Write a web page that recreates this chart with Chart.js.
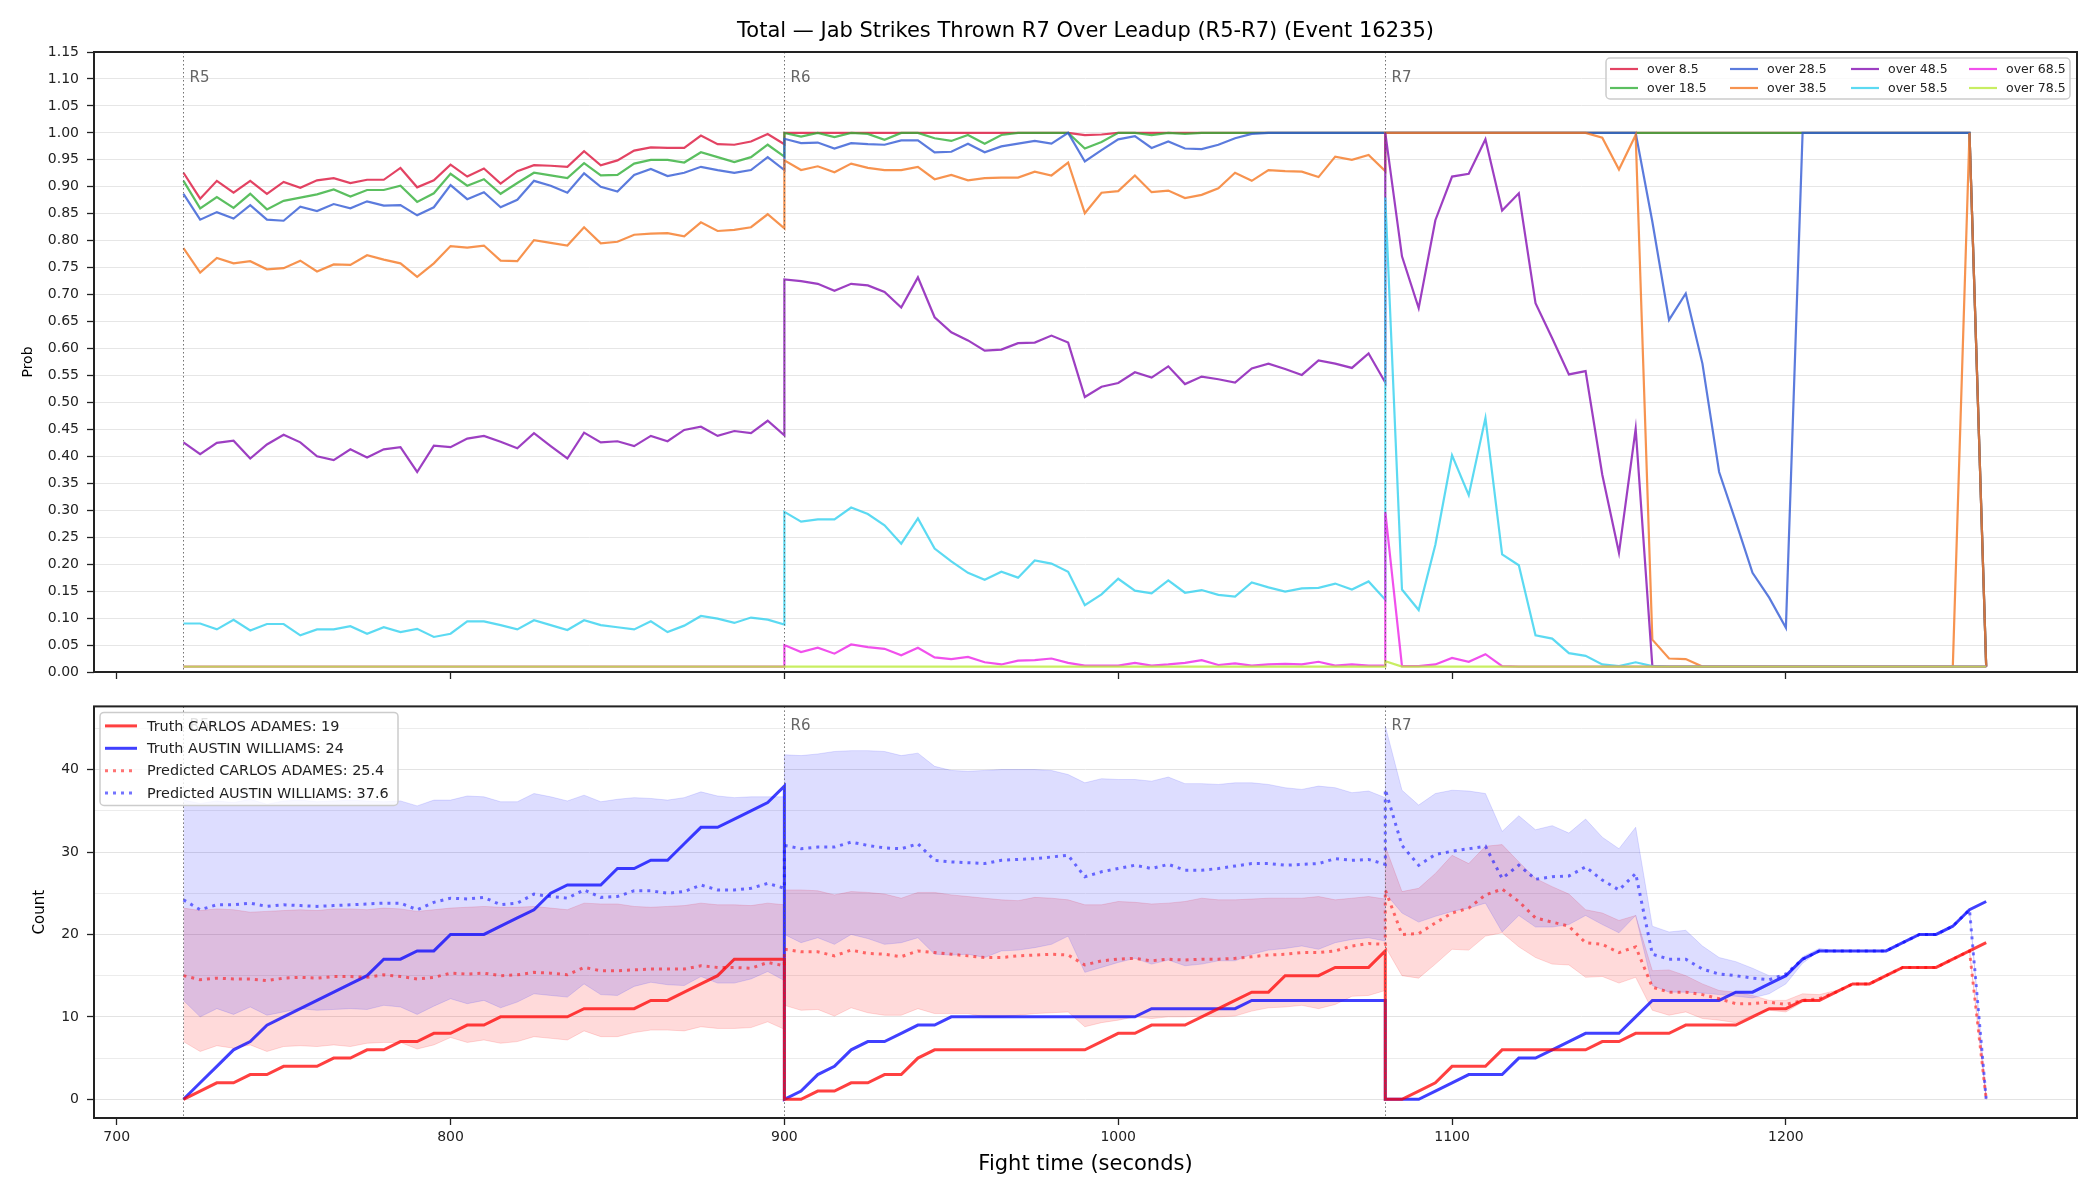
<!DOCTYPE html>
<html>
<head>
<meta charset="utf-8">
<title>Total — Jab Strikes Thrown R7 Over Leadup</title>
<script src="https://cdn.jsdelivr.net/npm/chart.js@4.4.1/dist/chart.umd.min.js"></script>
<style>
  html, body { margin: 0; padding: 0; background: #fff; }
  #wrap { position: relative; width: 2100px; height: 1200px; }
  canvas { position: absolute; left: 0; }
  #probChart { top: 0; }
  #countChart { top: 690px; }
</style>
</head>
<body>
<div id="wrap">
  <canvas id="probChart" width="2100" height="690"></canvas>
  <canvas id="countChart" width="2100" height="510"></canvas>
</div>
<script>
// sample times (s): R5, R6, R7 each sampled every 5 s, boundaries repeated
const times = [
  720,725,730,735,740,745,750,755,760,765,770,775,780,785,790,795,800,805,810,815,820,825,830,835,840,845,850,855,860,865,870,875,880,885,890,895,900,
  900,905,910,915,920,925,930,935,940,945,950,955,960,965,970,975,980,985,990,995,1000,1005,1010,1015,1020,1025,1030,1035,1040,1045,1050,1055,1060,1065,1070,1075,1080,
  1080,1085,1090,1095,1100,1105,1110,1115,1120,1125,1130,1135,1140,1145,1150,1155,1160,1165,1170,1175,1180,1185,1190,1195,1200,1205,1210,1215,1220,1225,1230,1235,1240,1245,1250,1255,1260
];

const roundStarts = [720, 900, 1080];
const roundLabels = ['R5', 'R6', 'R7'];
const xTicks = [700, 800, 900, 1000, 1100, 1200];
const probTicks = [0,0.05,0.1,0.15,0.2,0.25,0.3,0.35,0.4,0.45,0.5,0.55,0.6,0.65,0.7,0.75,0.8,0.85,0.9,0.95,1,1.05,1.1,1.15];
const countTicks = [0,5,10,15,20,25,30,35,40,45];

const probLabels = ['over 8.5','over 18.5','over 28.5','over 38.5','over 48.5','over 58.5','over 68.5','over 78.5'];
const probColors = [
  'rgba(220,20,60,0.8)', 'rgba(50,175,56,0.8)', 'rgba(50,90,212,0.8)', 'rgba(245,120,35,0.8)',
  'rgba(133,15,179,0.8)', 'rgba(51,209,239,0.8)', 'rgba(238,36,231,0.8)', 'rgba(186,234,59,0.8)'
];

const over8 = [
  0.926,0.878,0.911,0.889,0.911,0.887,0.909,0.898,0.912,0.916,0.907,0.913,0.913,0.935,0.899,0.912,0.941,0.919,0.934,0.906,0.929,0.940,0.939,0.937,0.966,0.940,0.949,0.967,0.973,0.972,0.972,0.995,0.979,0.978,0.984,0.998,0.979,
  1,1,1,1,1,1,1,1,1,1,1,1,1,1,1,1,1,1,0.996,0.997,1,1,1,1,1,1,1,1,1,1,1,1,1,1,1,1,1,
  1,1,1,1,1,1,1,1,1,1,1,1,1,1,1,1,1,1,1,1,1,1,1,1,1,1,1,1,1,1,1,1,1,1,1,1,0.01
];
const over18 = [
  0.911,0.860,0.881,0.861,0.887,0.858,0.874,0.880,0.886,0.895,0.882,0.894,0.894,0.902,0.872,0.888,0.924,0.902,0.914,0.887,0.907,0.926,0.921,0.916,0.944,0.921,0.922,0.943,0.950,0.950,0.945,0.964,0.955,0.946,0.955,0.978,0.956,
  1,0.993,1,0.992,1,0.998,0.987,1,1,0.990,0.985,0.996,0.980,0.996,1,1,1,1,0.971,0.983,1,1,0.996,1,0.998,1,1,1,1,1,1,1,1,1,1,1,1,
  1,1,1,1,1,1,1,1,1,1,1,1,1,1,1,1,1,1,1,1,1,1,1,1,1,1,1,1,1,1,1,1,1,1,1,1,0.01
];
const over28 = [
  0.887,0.839,0.853,0.841,0.866,0.839,0.837,0.863,0.855,0.868,0.860,0.873,0.865,0.866,0.847,0.862,0.903,0.877,0.890,0.862,0.876,0.911,0.902,0.889,0.925,0.900,0.891,0.922,0.933,0.920,0.926,0.937,0.931,0.926,0.931,0.955,0.931,
  0.989,0.981,0.982,0.971,0.981,0.979,0.978,0.986,0.986,0.964,0.965,0.980,0.964,0.975,0.980,0.985,0.980,1,0.947,0.968,0.988,0.994,0.972,0.984,0.971,0.970,0.978,0.990,0.998,1,1,1,1,1,1,1,1,
  1,1,1,1,1,1,1,1,1,1,1,1,1,1,1,1,0.835,0.653,0.702,0.572,0.371,0.279,0.184,0.138,0.082,1,1,1,1,1,1,1,1,1,1,1,0.01
];
const over38 = [
  0.786,0.741,0.768,0.758,0.762,0.747,0.749,0.763,0.743,0.756,0.755,0.773,0.765,0.758,0.733,0.758,0.790,0.787,0.791,0.763,0.762,0.801,0.796,0.791,0.825,0.795,0.798,0.811,0.813,0.814,0.808,0.834,0.818,0.820,0.825,0.849,0.823,
  0.949,0.931,0.938,0.927,0.943,0.935,0.931,0.931,0.937,0.914,0.922,0.912,0.916,0.917,0.917,0.928,0.921,0.945,0.851,0.889,0.892,0.921,0.890,0.893,0.879,0.885,0.897,0.926,0.911,0.931,0.929,0.928,0.918,0.956,0.950,0.959,0.929,
  1,1,1,1,1,1,1,1,1,1,1,1,1,0.991,0.932,0.996,0.060,0.025,0.024,0.01,0.01,0.01,0.01,0.01,0.01,0.01,0.01,0.01,0.01,0.01,0.01,0.01,0.01,0.01,0.01,1,0.01
];
const over48 = [
  0.426,0.404,0.425,0.429,0.396,0.422,0.440,0.426,0.400,0.393,0.413,0.398,0.413,0.417,0.371,0.420,0.417,0.433,0.438,0.427,0.415,0.443,0.419,0.396,0.444,0.426,0.428,0.419,0.438,0.428,0.449,0.455,0.438,0.447,0.443,0.466,0.439,
  0.728,0.725,0.720,0.707,0.720,0.717,0.705,0.676,0.732,0.658,0.630,0.615,0.596,0.598,0.610,0.611,0.624,0.611,0.510,0.529,0.536,0.556,0.546,0.567,0.534,0.548,0.543,0.537,0.563,0.572,0.562,0.551,0.578,0.572,0.564,0.591,0.537,
  1,0.771,0.675,0.838,0.919,0.924,0.988,0.856,0.888,0.684,0.619,0.552,0.558,0.366,0.221,0.451,0.011,0.01,0.01,0.01,0.01,0.01,0.01,0.01,0.01,0.01,0.01,0.01,0.01,0.01,0.01,0.01,0.01,0.01,0.01,0.01,0.01
];
const over58 = [
  0.090,0.090,0.079,0.097,0.077,0.089,0.089,0.068,0.079,0.079,0.085,0.071,0.083,0.074,0.080,0.065,0.071,0.094,0.094,0.087,0.079,0.096,0.087,0.078,0.096,0.087,0.083,0.079,0.094,0.074,0.086,0.104,0.099,0.091,0.101,0.097,0.088,
  0.297,0.279,0.283,0.283,0.305,0.293,0.272,0.238,0.285,0.229,0.205,0.184,0.171,0.186,0.175,0.207,0.201,0.186,0.124,0.144,0.173,0.151,0.146,0.170,0.147,0.152,0.143,0.140,0.166,0.157,0.149,0.155,0.156,0.164,0.153,0.168,0.134,
  0.880,0.153,0.115,0.236,0.402,0.328,0.471,0.218,0.198,0.068,0.062,0.035,0.030,0.014,0.011,0.018,0.011,0.01,0.01,0.01,0.01,0.01,0.01,0.01,0.01,0.01,0.01,0.01,0.01,0.01,0.01,0.01,0.01,0.01,0.01,0.01,0.01
];
const over68 = [
  0.01,0.01,0.01,0.01,0.01,0.01,0.01,0.01,0.01,0.01,0.01,0.01,0.01,0.01,0.01,0.01,0.01,0.01,0.01,0.01,0.01,0.01,0.01,0.01,0.01,0.01,0.01,0.01,0.01,0.01,0.01,0.01,0.01,0.01,0.01,0.01,0.01,
  0.050,0.037,0.045,0.034,0.051,0.046,0.043,0.031,0.045,0.027,0.024,0.028,0.018,0.014,0.021,0.022,0.025,0.017,0.012,0.012,0.012,0.017,0.012,0.014,0.017,0.022,0.013,0.016,0.012,0.014,0.015,0.014,0.019,0.012,0.014,0.012,0.012,
  0.297,0.011,0.011,0.014,0.026,0.019,0.033,0.011,0.01,0.01,0.01,0.01,0.01,0.01,0.01,0.01,0.01,0.01,0.01,0.01,0.01,0.01,0.01,0.01,0.01,0.01,0.01,0.01,0.01,0.01,0.01,0.01,0.01,0.01,0.01,0.01,0.01
];
const over78 = [
  0.01,0.01,0.01,0.01,0.01,0.01,0.01,0.01,0.01,0.01,0.01,0.01,0.01,0.01,0.01,0.01,0.01,0.01,0.01,0.01,0.01,0.01,0.01,0.01,0.01,0.01,0.01,0.01,0.01,0.01,0.01,0.01,0.01,0.01,0.01,0.01,0.01,
  0.01,0.01,0.01,0.01,0.01,0.01,0.01,0.01,0.01,0.01,0.01,0.01,0.01,0.01,0.01,0.01,0.01,0.01,0.01,0.01,0.01,0.01,0.01,0.01,0.01,0.01,0.01,0.01,0.01,0.01,0.01,0.01,0.01,0.01,0.01,0.01,0.01,
  0.02,0.01,0.01,0.01,0.01,0.01,0.01,0.01,0.01,0.01,0.01,0.01,0.01,0.01,0.01,0.01,0.01,0.01,0.01,0.01,0.01,0.01,0.01,0.01,0.01,0.01,0.01,0.01,0.01,0.01,0.01,0.01,0.01,0.01,0.01,0.01,0.01
];
const probSeries = [over8, over18, over28, over38, over48, over58, over68, over78];

// bottom panel: counts
const truthCarlos = [
  0,1,2,2,3,3,4,4,4,5,5,6,6,7,7,8,8,9,9,10,10,10,10,10,11,11,11,11,12,12,13,14,15,17,17,17,17,
  0,0,1,1,2,2,3,3,5,6,6,6,6,6,6,6,6,6,6,7,8,8,9,9,9,10,11,12,13,13,15,15,15,16,16,16,18,
  0,0,1,2,4,4,4,6,6,6,6,6,6,7,7,8,8,8,9,9,9,9,10,11,11,12,12,13,14,14,15,16,16,16,17,18,19
];
const truthAustin = [
  0,2,4,6,7,9,10,11,12,13,14,15,17,17,18,18,20,20,20,21,22,23,25,26,26,26,28,28,29,29,31,33,33,34,35,36,38,
  0,1,3,4,6,7,7,8,9,9,10,10,10,10,10,10,10,10,10,10,10,10,11,11,11,11,11,11,12,12,12,12,12,12,12,12,12,
  0,0,0,1,2,3,3,3,5,5,6,7,8,8,8,10,12,12,12,12,12,13,13,14,15,17,18,18,18,18,18,19,20,20,21,23,24
];
const predCarlos = [
  15.0,14.5,14.7,14.6,14.6,14.4,14.7,14.8,14.7,14.9,14.9,14.8,15.1,14.9,14.6,14.8,15.3,15.2,15.3,15.0,15.1,15.4,15.3,15.1,16.0,15.6,15.6,15.7,15.8,15.8,15.8,16.2,16.0,16.0,15.9,16.6,16.2,
  18.2,17.9,17.9,17.4,18.1,17.7,17.6,17.3,18.0,17.8,17.6,17.4,17.2,17.2,17.4,17.5,17.6,17.5,16.3,16.8,17.0,17.1,16.8,17.0,16.9,17.0,17.0,17.1,17.3,17.5,17.6,17.8,17.8,18.0,18.6,18.9,18.8,
  25.4,20.0,20.1,21.4,22.6,23.2,24.8,25.5,24.0,22.0,21.5,21.0,19.0,18.8,17.8,18.5,13.6,13.0,13.0,12.7,12.2,11.6,11.6,11.8,11.5,12.0,12.2,13.0,14.0,14.0,15.0,16.0,16.0,16.0,17.0,18.0,0
];
const predAustin = [
  24.2,23.0,23.6,23.6,23.8,23.4,23.6,23.5,23.4,23.5,23.6,23.7,23.8,23.8,23.0,23.9,24.4,24.3,24.5,23.6,23.8,24.9,24.6,24.4,25.4,24.5,24.6,25.3,25.3,25.0,25.2,26.0,25.4,25.4,25.6,26.2,25.6,
  30.8,30.4,30.6,30.6,31.2,30.8,30.5,30.4,31.0,29.0,28.8,28.7,28.6,29.0,29.1,29.2,29.4,29.6,27.0,27.6,28.0,28.4,28.0,28.5,27.8,27.8,28.0,28.3,28.6,28.6,28.4,28.5,28.6,29.2,29.0,29.1,28.5,
  37.6,30.8,28.4,29.7,30.1,30.4,30.7,26.8,28.4,26.7,27.0,27.1,28.2,26.6,25.4,27.4,17.6,17.0,17.0,15.8,15.2,15.0,14.7,14.5,15.2,17.0,18.0,18.0,18.0,18.0,18.0,19.0,20.0,20.0,21.0,23.0,0
];
const carlosLow = [
  7.0,5.8,6.5,6.2,6.6,5.8,6.4,6.5,6.4,6.6,6.4,6.8,6.9,6.9,6.1,6.6,7.5,6.9,7.2,6.8,7.0,7.6,7.4,7.2,8.3,7.6,7.6,8.1,8.4,8.4,8.3,8.8,8.6,8.6,8.7,9.4,8.5,
  11.4,10.8,10.9,10.1,11.1,10.5,10.2,10.2,11.0,10.4,10.4,10.4,10.0,10.0,10.2,10.4,10.5,10.6,8.8,9.3,9.6,10.0,9.8,10.0,10.0,10.1,10.0,10.1,10.7,11.1,11.2,11.4,11.0,11.5,12.5,12.6,13.2,
  18.5,15.0,14.7,16.4,18.2,18.1,19.8,20.2,18.5,17.2,16.4,16.3,14.8,14.9,14.1,14.8,10.8,10.2,10.6,9.8,9.6,9.3,10.2,10.8,10.6,11.8,12.0,13.0,14.0,14.0,15.0,16.0,16.0,16.0,17.0,18.0,0
];
const carlosHigh = [
  23.2,22.9,23.1,23.0,22.7,22.8,22.9,23.0,22.9,23.1,23.1,23.0,23.2,23.1,22.8,23.0,23.2,23.3,23.4,23.3,23.3,23.4,23.2,23.0,23.8,23.7,23.7,23.4,23.3,23.4,23.5,23.8,23.6,23.6,23.5,23.8,23.6,
  25.4,25.4,25.3,24.8,25.2,25.1,24.9,24.4,25.1,25.1,24.8,24.6,24.4,24.2,24.1,24.5,24.4,24.2,23.6,23.6,24.0,23.9,23.7,23.8,24.0,24.4,24.2,24.2,24.3,24.4,24.4,24.4,24.6,24.2,24.4,24.6,24.3,
  30.7,25.2,25.6,27.4,29.6,28.6,30.7,30.9,28.8,26.8,25.8,24.9,23.0,22.6,21.7,22.3,15.6,15.7,15.0,14.0,13.2,13.0,12.6,12.0,12.0,12.8,12.7,13.2,14.0,14.0,15.0,16.0,16.0,16.0,17.0,18.0,0
];
const austinLow = [
  12.0,10.0,11.0,10.3,11.2,10.2,10.6,11.0,10.8,10.9,11.0,10.9,11.4,11.2,10.3,11.3,12.2,11.6,12.0,11.1,11.8,12.8,12.6,12.4,14.0,12.7,12.6,13.7,14.2,13.9,13.8,14.9,14.1,14.1,14.6,15.5,14.4,
  20.0,19.0,19.6,18.8,20.0,19.5,18.8,19.0,19.6,17.6,17.5,17.6,17.2,18.0,18.1,18.4,18.8,19.8,15.4,16.0,16.6,17.1,16.4,16.9,16.2,16.4,16.8,16.8,17.6,18.1,18.3,18.6,18.2,19.0,19.4,19.6,19.2,
  25.0,22.6,21.5,22.2,22.8,23.2,23.8,20.3,22.3,20.9,20.9,21.2,22.3,21.2,20.2,22.3,13.8,13.0,13.0,12.9,12.7,12.5,12.3,12.8,14.0,16.5,18.0,18.0,18.0,18.0,18.0,19.0,20.0,20.0,21.0,23.0,0
];
const austinHigh = [
  36.3,35.9,36.2,36.0,36.4,35.8,36.2,36.3,36.1,36.2,36.3,36.2,36.1,36.2,35.6,36.3,36.3,36.8,36.7,36.1,36.1,37.1,36.7,36.2,36.9,36.1,36.4,36.6,36.5,36.3,36.6,37.3,36.8,36.6,36.7,36.7,36.7,
  41.8,41.7,41.9,42.2,42.3,42.3,42.2,41.7,42.0,40.4,39.9,39.8,39.9,40.0,40.0,40.0,39.9,39.4,38.4,38.9,38.8,38.8,38.6,39.1,38.3,38.3,38.2,38.4,38.4,38.2,37.8,37.6,38.0,37.8,37.2,37.4,36.6,
  45.3,37.5,35.7,37.1,37.5,37.4,37.1,32.5,34.4,32.7,33.2,32.3,34.0,31.8,30.4,33.0,21.0,20.3,20.5,18.6,17.2,16.7,15.9,15.0,15.0,17.3,18.3,18.0,18.0,18.0,18.0,19.0,20.0,20.0,21.0,23.0,0
];

const FONT = "'DejaVu Sans', 'Liberation Sans', sans-serif";
const INK = '#222222';

const toPoints = vals => times.map((t, i) => ({ x: t, y: vals[i] }));

// frame box, vertical round markers, titles
const framePlugin = {
  id: 'frame',
  afterDatasetsDraw(chart) {
    const { ctx, chartArea: a } = chart;
    ctx.save();
    ctx.strokeStyle = INK;
    ctx.lineWidth = 2;
    ctx.strokeRect(a.left, a.top, a.right - a.left, a.bottom - a.top);
    ctx.restore();
  }
};

const roundPlugin = (labelDy) => ({
  id: 'rounds',
  afterDatasetsDraw(chart) {
    const { ctx, chartArea: a, scales: { x } } = chart;
    ctx.save();
    roundStarts.forEach((t, i) => {
      const px = Math.round(x.getPixelForValue(t)) + 0.5;
      ctx.strokeStyle = 'rgba(90,90,90,0.85)';
      ctx.lineWidth = 1;
      ctx.setLineDash([1.5, 2.5]);
      ctx.beginPath();
      ctx.moveTo(px, a.top);
      ctx.lineTo(px, a.bottom);
      ctx.stroke();
      ctx.setLineDash([]);
      ctx.fillStyle = '#666666';
      ctx.font = '15px ' + FONT;
      ctx.textAlign = 'left';
      ctx.textBaseline = 'middle';
      ctx.fillText(roundLabels[i], px + 6, a.top + labelDy);
    });
    ctx.restore();
  }
});

const textPlugin = (items) => ({
  id: 'texts',
  afterDraw(chart) {
    const { ctx, chartArea: a } = chart;
    ctx.save();
    ctx.fillStyle = '#000';
    ctx.textAlign = 'center';
    ctx.textBaseline = 'middle';
    items.forEach(it => {
      ctx.font = it.size + 'px ' + FONT;
      const cx = it.x === 'center' ? (a.left + a.right) / 2 : it.x;
      const cy = it.y === 'middle' ? (a.top + a.bottom) / 2 : it.y;
      ctx.save();
      ctx.translate(cx, cy);
      if (it.rotate) ctx.rotate(-Math.PI / 2);
      ctx.fillText(it.text, 0, 0);
      ctx.restore();
    });
    ctx.restore();
  }
});

function legendBox(ctx, x, y, w, h) {
  const r = 4;
  ctx.beginPath();
  ctx.moveTo(x + r, y);
  ctx.arcTo(x + w, y, x + w, y + h, r);
  ctx.arcTo(x + w, y + h, x, y + h, r);
  ctx.arcTo(x, y + h, x, y, r);
  ctx.arcTo(x, y, x + w, y, r);
  ctx.closePath();
  ctx.fillStyle = 'rgba(255,255,255,0.8)';
  ctx.fill();
  ctx.strokeStyle = '#cccccc';
  ctx.lineWidth = 1.5;
  ctx.stroke();
}

const probLegend = {
  id: 'probLegend',
  afterDraw(chart) {
    const { ctx, chartArea: a } = chart;
    const w = 464, h = 41;
    const bx = a.right - 7 - w, by = a.top + 6;
    ctx.save();
    legendBox(ctx, bx, by, w, h);
    const colX = [4, 124, 245, 363];
    const rowY = [11, 30];
    ctx.font = '12.5px ' + FONT;
    ctx.textBaseline = 'middle';
    ctx.textAlign = 'left';
    chart.data.datasets.forEach((ds, i) => {
      const cx = bx + colX[Math.floor(i / 2)];
      const cy = by + rowY[i % 2];
      ctx.strokeStyle = ds.borderColor;
      ctx.lineWidth = 2.2;
      ctx.beginPath();
      ctx.moveTo(cx, cy);
      ctx.lineTo(cx + 28, cy);
      ctx.stroke();
      ctx.fillStyle = INK;
      ctx.fillText(ds.label, cx + 37, cy + 1);
    });
    ctx.restore();
  }
};

const countLegend = {
  id: 'countLegend',
  afterDraw(chart) {
    const { ctx, chartArea: a } = chart;
    const bx = a.left + 6, by = a.top + 6, w = 298, h = 93;
    ctx.save();
    legendBox(ctx, bx, by, w, h);
    ctx.font = '14.4px ' + FONT;
    ctx.textBaseline = 'middle';
    ctx.textAlign = 'left';
    chart.data.datasets.filter(ds => ds.inLegend).forEach((ds, i) => {
      const cy = by + 13.5 + 22.4 * i;
      ctx.strokeStyle = ds.borderColor;
      ctx.lineWidth = 3;
      ctx.setLineDash(ds.borderDash || []);
      ctx.beginPath();
      ctx.moveTo(bx + 5, cy);
      ctx.lineTo(bx + 37, cy);
      ctx.stroke();
      ctx.setLineDash([]);
      ctx.fillStyle = INK;
      ctx.fillText(ds.label, bx + 47, cy + 1);
    });
    ctx.restore();
  }
};

const xScaleBase = {
  type: 'linear',
  min: 693.2,
  max: 1287.2,
  afterBuildTicks: s => { s.ticks = xTicks.map(v => ({ value: v })); },
  border: { display: false },
  grid: { drawOnChartArea: false, drawTicks: true, tickLength: 7, tickColor: INK, tickWidth: 1.3 }
};

// top panel: probabilities
new Chart(document.getElementById('probChart'), {
  type: 'line',
  data: {
    datasets: probSeries.map((vals, i) => ({
      label: probLabels[i],
      data: toPoints(vals),
      borderColor: probColors[i],
      borderWidth: 2.2,
      pointRadius: 0,
      fill: false,
      tension: 0,
      order: 7 - i
    }))
  },
  options: {
    responsive: false,
    animation: false,
    devicePixelRatio: 1,
    layout: { padding: { top: 52, right: 23, left: 0, bottom: 0 } },
    plugins: { legend: { display: false }, tooltip: { enabled: false } },
    scales: {
      x: Object.assign({}, xScaleBase, {
        ticks: { display: false },
        afterFit: s => { s.height = 18; }
      }),
      y: {
        min: 0,
        max: 1.15,
        afterBuildTicks: s => { s.ticks = probTicks.map(v => ({ value: v })); },
        afterFit: s => { s.width = 94; },
        border: { display: false },
        grid: { color: '#e6e6e6', lineWidth: 1, tickLength: 7, tickColor: INK, tickWidth: 1.3 },
        ticks: { color: INK, padding: 8, font: { family: FONT, size: 14 }, callback: v => v.toFixed(2) }
      }
    }
  },
  plugins: [
    roundPlugin(26),
    framePlugin,
    probLegend,
    textPlugin([
      { text: 'Total \u2014 Jab Strikes Thrown R7 Over Leadup (R5-R7) (Event 16235)', x: 'center', y: 32, size: 21 },
      { text: 'Prob', x: 28, y: 'middle', size: 14, rotate: true }
    ])
  ]
});

// bottom panel: counts
const RED_TRUTH = 'rgba(255,0,0,0.75)';
const BLUE_TRUTH = 'rgba(0,0,255,0.75)';
new Chart(document.getElementById('countChart'), {
  type: 'line',
  data: {
    datasets: [
      { label: 'Truth CARLOS ADAMES: 19', inLegend: true, data: toPoints(truthCarlos), borderColor: RED_TRUTH, borderWidth: 3, order: 1 },
      { label: 'Truth AUSTIN WILLIAMS: 24', inLegend: true, data: toPoints(truthAustin), borderColor: BLUE_TRUTH, borderWidth: 3, order: 1 },
      { label: 'Predicted CARLOS ADAMES: 25.4', inLegend: true, data: toPoints(predCarlos), borderColor: 'rgba(255,0,0,0.55)', borderWidth: 3, borderDash: [3, 5], order: 0 },
      { label: 'Predicted AUSTIN WILLIAMS: 37.6', inLegend: true, data: toPoints(predAustin), borderColor: 'rgba(0,0,255,0.55)', borderWidth: 3, borderDash: [3, 5], order: 0 },
      { label: 'austin low', data: toPoints(austinLow), borderColor: 'rgba(0,0,255,0.12)', borderWidth: 1, fill: false, order: 2 },
      { label: 'austin high', data: toPoints(austinHigh), borderColor: 'rgba(0,0,255,0.12)', borderWidth: 1, fill: 4, backgroundColor: 'rgba(0,0,255,0.135)', order: 2 },
      { label: 'carlos low', data: toPoints(carlosLow), borderColor: 'rgba(255,0,0,0.14)', borderWidth: 1, fill: false, order: 2 },
      { label: 'carlos high', data: toPoints(carlosHigh), borderColor: 'rgba(255,0,0,0.14)', borderWidth: 1, fill: 6, backgroundColor: 'rgba(255,0,0,0.145)', order: 2 }
    ]
  },
  options: {
    responsive: false,
    animation: false,
    devicePixelRatio: 1,
    elements: { point: { radius: 0 }, line: { tension: 0, borderCapStyle: 'butt' } },
    layout: { padding: { top: 14, right: 23, left: 0, bottom: 0 } },
    plugins: { legend: { display: false }, tooltip: { enabled: false }, filler: { propagate: false } },
    scales: {
      x: Object.assign({}, xScaleBase, {
        ticks: { color: INK, padding: 4, font: { family: FONT, size: 14 }, callback: v => String(v) },
        afterFit: s => { s.height = 82; }
      }),
      y: {
        min: -2.27,
        max: 47.67,
        afterBuildTicks: s => { s.ticks = countTicks.map(v => ({ value: v })); },
        afterFit: s => { s.width = 94; },
        border: { display: false },
        grid: {
          color: c => (c.tick && c.tick.value % 10 === 0) ? '#e3e3e3' : '#ececec',
          tickLength: 7,
          tickWidth: 1.3,
          tickColor: c => (c.tick && c.tick.value % 10 === 0) ? INK : 'rgba(0,0,0,0)'
        },
        ticks: { color: INK, padding: 8, font: { family: FONT, size: 14 }, callback: v => (v % 10 === 0 ? String(v) : '') }
      }
    }
  },
  plugins: [
    roundPlugin(20),
    framePlugin,
    countLegend,
    textPlugin([
      { text: 'Fight time (seconds)', x: 'center', y: 475, size: 21 },
      { text: 'Count', x: 40, y: 'middle', size: 15, rotate: true }
    ])
  ]
});
</script>
</body>
</html>
